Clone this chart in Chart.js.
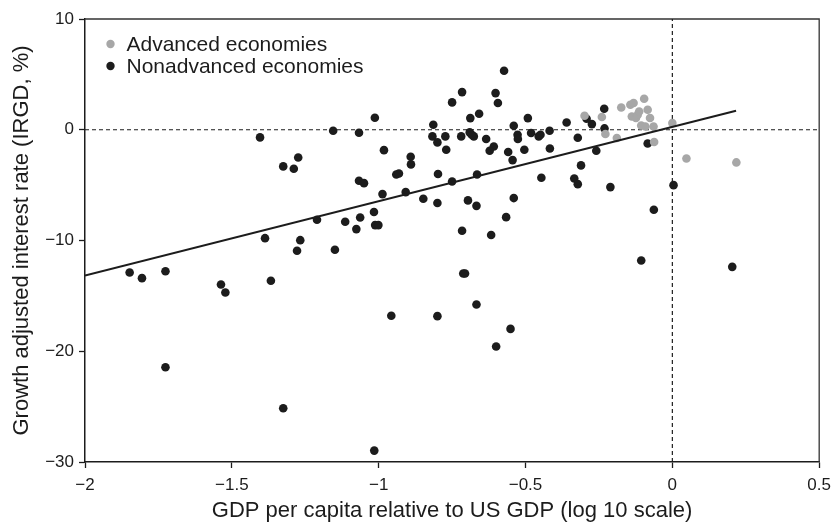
<!DOCTYPE html>
<html>
<head>
<meta charset="utf-8">
<script src="https://cdn.jsdelivr.net/npm/chart.js@4/dist/chart.umd.min.js"></script>
<style>
  html, body { margin: 0; padding: 0; background: #ffffff; }
  #wrap { width: 838px; height: 525px; }
</style>
</head>
<body>
<div id="wrap"><canvas id="chart" width="838" height="525"></canvas></div>
<script>
// GDP per capita relative to the US (log10) vs. growth-adjusted interest rate
const advancedX = [-0.299, -0.240, -0.228, -0.189, -0.174, -0.143, -0.132, -0.096, -0.138, -0.124, -0.118,
                   -0.113, -0.084, -0.076, -0.106, -0.092, -0.064, 0.000, -0.062, 0.048, 0.218];
const advancedY = [1.26, 1.15, -0.39, -0.75, 2.01, 2.26, 2.41, 2.80, 1.20, 1.06, 1.36,
                   1.65, 1.81, 1.06, 0.39, 0.30, 0.30, 0.60, -1.11, -2.60, -2.95];

const nonAdvancedX = [-1.404, -1.325, -1.289, -1.274, -1.155, -1.067, -1.013, -0.982, -0.891, -0.890,
                      -0.940, -0.931, -1.067, -1.050, -0.987, -0.908, -1.210, -1.114, -1.063, -1.076,
                      -1.016, -1.012, -1.001, -1.387, -1.267, -1.278, -1.149, -1.848, -1.806, -1.726,
                      -1.537, -1.522, -1.367, -0.957, -1.726, -1.325, -1.015, -0.106, 0.204, -0.712,
                      -0.706, -0.667, -0.800, -0.551, -0.600, -0.573, -0.716, -0.602, -0.594, -0.750,
                      -0.658, -0.688, -0.492, -0.814, -0.540, -0.360, -0.232, -0.274, -0.231, -0.817,
                      -0.800, -0.773, -0.719, -0.690, -0.676, -0.683, -0.770, -0.634, -0.608, -0.622,
                      -0.559, -0.544, -0.527, -0.526, -0.504, -0.481, -0.455, -0.449, -0.418, -0.417,
                      -0.322, -0.259, -0.311, -0.084, -0.798, -0.665, -0.750, -0.848, -0.800, -0.696,
                      -0.667, -0.540, -0.566, -0.446, -0.334, -0.322, -0.211, 0.004, -0.063, -0.716,
                      -0.617, -0.292];
const nonAdvancedY = [-0.69, -3.31, -3.52, -2.50, -0.09, -0.27, 1.08, -1.84, -2.44, -3.13,
                      -4.04, -3.95, -4.61, -4.82, -5.81, -5.63, -8.13, -8.31, -7.92, -8.97,
                      -7.43, -8.61, -8.61, -9.79, -9.97, -10.93, -10.84, -12.89, -13.40, -12.77,
                      -13.97, -14.69, -13.64, -16.80, -21.44, -25.14, -28.97, -11.80, -12.38, -12.98,
                      -12.98, -15.78, -16.83, -17.98, -19.57, 5.33, 3.40, 3.31, 2.41, 2.47,
                      1.45, 1.05, 1.05, 0.45, 0.36, 0.66, 1.90, 0.51, 0.12, -0.60,
                      -1.14, -0.60, -0.60, -0.24, -0.60, -0.45, -1.81, -0.84, -1.51, -1.90,
                      -2.01, -2.74, -0.45, -0.84, -1.81, -0.30, -0.60, -0.45, -0.09, -1.69,
                      -0.72, -1.90, -3.22, -1.24, -4.00, -4.04, -4.67, -6.23, -6.62, -6.38,
                      -6.87, -6.17, -7.89, -4.34, -4.40, -4.91, -5.18, -5.00, -7.23, -9.12,
                      -9.51, 1.00];

// fitted regression line (end points)
const fitX = [-2, 0.217];
const fitY = [-13.16, 1.72];

// reference lines at zero
const zeroLineX = [-2, 0.5];
const zeroLineY = [-30, 10];

const xTicks = [-2, -1.5, -1, -0.5, 0, 0.5];
const yTicks = [10, 0, -10, -20, -30];

const seriesNames = ['Advanced economies', 'Nonadvanced economies'];
const seriesColors = ['#a7a7a7', '#1c1c1c'];

const FONT = "'Liberation Sans', Arial, Helvetica, sans-serif";
const INK = '#1c1c1c';

const pts = (xs, ys) => xs.map((x, i) => ({ x: x, y: ys[i] }));
const fmt = v => (v < 0 ? '\u2212' + String(Math.abs(v)) : String(v));

// frame on top and right sides of the plot area
const framePlugin = {
  id: 'frame',
  beforeDatasetsDraw(chart) {
    const { ctx, chartArea: a } = chart;
    ctx.save();
    ctx.strokeStyle = '#333333';
    ctx.lineWidth = 1.3;
    ctx.beginPath();
    ctx.moveTo(a.left, a.top);
    ctx.lineTo(a.right, a.top);
    ctx.lineTo(a.right, a.bottom);
    ctx.stroke();
    ctx.restore();
  }
};

// legend drawn inside the plot, upper left
const legendPlugin = {
  id: 'innerLegend',
  afterDatasetsDraw(chart) {
    const { ctx, chartArea: a } = chart;
    ctx.save();
    ctx.font = '21px ' + FONT;
    ctx.textBaseline = 'middle';
    ctx.textAlign = 'left';
    seriesNames.forEach((name, i) => {
      const cy = a.top + 25 + i * 22;
      const cx = a.left + 25.5;
      ctx.fillStyle = seriesColors[i];
      ctx.beginPath();
      ctx.arc(cx, cy, 4.2, 0, Math.PI * 2);
      ctx.fill();
      ctx.fillStyle = INK;
      ctx.fillText(name, cx + 16, cy + 1);
    });
    ctx.restore();
  }
};

new Chart(document.getElementById('chart'), {
  type: 'scatter',
  data: {
    datasets: [
      {
        label: 'zero-y',
        type: 'line',
        data: pts(zeroLineX, [0, 0]),
        borderColor: INK,
        borderWidth: 1.2,
        borderDash: [4, 3],
        pointRadius: 0,
        fill: false,
        order: 5
      },
      {
        label: 'zero-x',
        type: 'line',
        data: pts([0, 0], zeroLineY),
        borderColor: INK,
        borderWidth: 1.2,
        borderDash: [4, 3],
        pointRadius: 0,
        fill: false,
        order: 5
      },
      {
        label: seriesNames[1],
        data: pts(nonAdvancedX, nonAdvancedY),
        backgroundColor: seriesColors[1],
        borderWidth: 0,
        pointRadius: 4.3,
        order: 3
      },
      {
        label: seriesNames[0],
        data: pts(advancedX, advancedY),
        backgroundColor: seriesColors[0],
        borderWidth: 0,
        pointRadius: 4.3,
        order: 2
      },
      {
        label: 'fit',
        type: 'line',
        data: pts(fitX, fitY),
        borderColor: INK,
        borderWidth: 2,
        pointRadius: 0,
        fill: false,
        order: 1
      }
    ]
  },
  options: {
    responsive: false,
    animation: false,
    devicePixelRatio: 1,
    layout: { padding: { top: 19, right: 17, left: 0, bottom: 0 } },
    plugins: {
      legend: { display: false },
      tooltip: { enabled: false }
    },
    scales: {
      x: {
        type: 'linear',
        min: -2,
        max: 0.5,
        afterBuildTicks(scale) { scale.ticks = xTicks.map(v => ({ value: v })); },
        afterFit(scale) { scale.height = 63; },
        ticks: {
          color: INK,
          font: { family: FONT, size: 17 },
          padding: 7,
          maxRotation: 0,
          callback: v => fmt(v)
        },
        grid: {
          drawOnChartArea: false,
          drawTicks: true,
          tickLength: 6,
          tickColor: INK,
          tickWidth: 1.3
        },
        border: { display: true, color: INK, width: 1.5 },
        title: {
          display: true,
          text: 'GDP per capita relative to US GDP (log 10 scale)',
          color: INK,
          font: { family: FONT, size: 22 },
          padding: { top: 0, bottom: 1 }
        }
      },
      y: {
        type: 'linear',
        min: -30,
        max: 10,
        afterBuildTicks(scale) { scale.ticks = yTicks.slice().reverse().map(v => ({ value: v })); },
        afterFit(scale) { scale.width = 85; },
        ticks: {
          color: INK,
          font: { family: FONT, size: 17 },
          padding: 5,
          callback: v => fmt(v)
        },
        grid: {
          drawOnChartArea: false,
          drawTicks: true,
          tickLength: 6,
          tickColor: INK,
          tickWidth: 1.3
        },
        border: { display: true, color: INK, width: 1.5 },
        title: {
          display: true,
          text: 'Growth adjusted interest rate (IRGD, %)',
          color: INK,
          font: { family: FONT, size: 22 },
          padding: { top: 9, bottom: 0 }
        }
      }
    }
  },
  plugins: [framePlugin, legendPlugin]
});
</script>
</body>
</html>
